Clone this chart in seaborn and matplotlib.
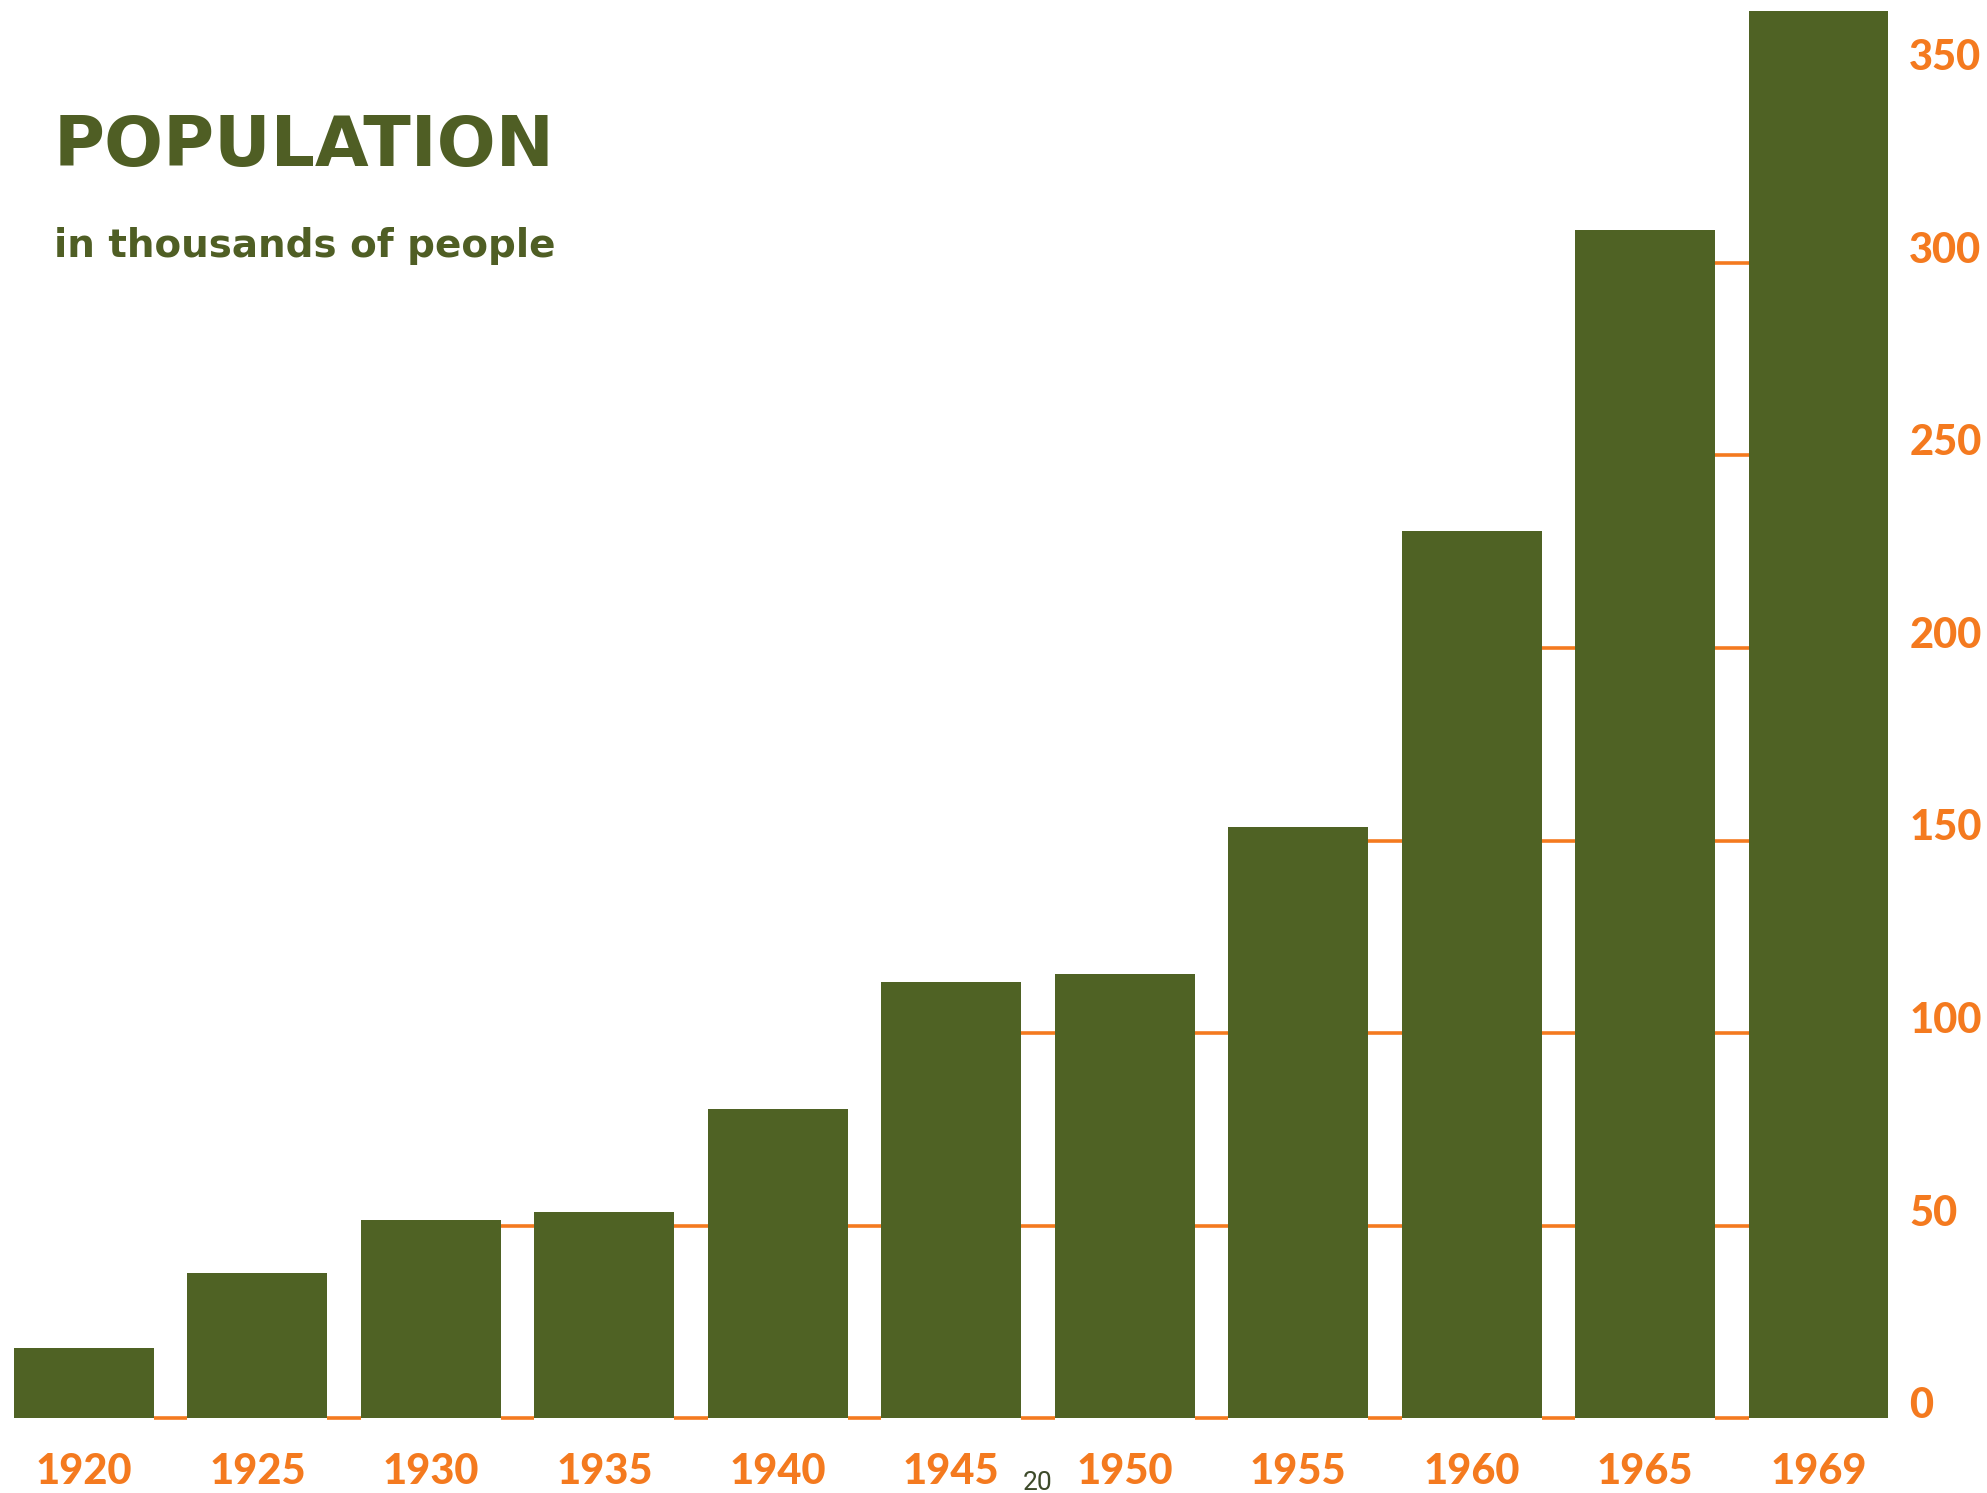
import matplotlib
matplotlib.use("Agg")
import matplotlib.pyplot as plt
import seaborn as sns
import pandas as pd

# ---- data ----
years = ["1920", "1925", "1930", "1935", "1940", "1945", "1950", "1955", "1960", "1965", "1969"]
population = [18.3, 37.8, 51.5, 53.6, 80.2, 113.2, 115.3, 153.6, 230.4, 308.5, 365.3]
y_ticks = [0, 50, 100, 150, 200, 250, 300, 350]
y_tick_labels = ["0", "50", "100", "150", "200", "250", "300", "350"]
title_text = "POPULATION"
subtitle_text = "in thousands of people"
page_number = "20"

# ---- style ----
GREEN = "#4f6224"
TEXT_GREEN = "#4f5e24"
ORANGE = "#f47a1f"
BAR_WIDTH = 0.807

sns.set_theme(style="white")
plt.rcParams["font.family"] = ["Lato", "DejaVu Sans"]

W, H, DPI = 1987, 1493, 100
fig = plt.figure(figsize=(W / DPI, H / DPI), dpi=DPI, facecolor="white")

zero_px = 1418.3       # pixel row of value 0 (from top)
px_per_unit = 3.852
ax_right_px = 1905.0
ax = fig.add_axes([0.0, (H - zero_px) / H, ax_right_px / W, zero_px / H])
ax.set_facecolor("white")

df = pd.DataFrame({"year": years, "population": population})
sns.barplot(data=df, x="year", y="population", color=GREEN, saturation=1,
            width=BAR_WIDTH, edgecolor="none", linewidth=0, ax=ax, zorder=3)

# small orange scale dashes in the gaps between bars
for i in range(len(population) - 1):
    lo = min(population[i], population[i + 1])
    for v in y_ticks:
        if v <= lo:
            ax.hlines(v, i + BAR_WIDTH / 2, i + 1 - BAR_WIDTH / 2,
                      color=ORANGE, linewidth=2.6, zorder=2, clip_on=False)

pitch = 173.45
first_center_px = 84.0
ax.set_xlim(-first_center_px / pitch, (len(years) - 1) + (ax_right_px - 1818.5) / pitch)
ax.set_ylim(0, zero_px / px_per_unit)

for s in ax.spines.values():
    s.set_visible(False)
ax.grid(False)
ax.set_xlabel("")
ax.set_ylabel("")

# y ticks on the right
ax.yaxis.tick_right()
ax.set_yticks(y_ticks)
ax.set_yticklabels(y_tick_labels, fontsize=30, fontweight="black", color=ORANGE,
                   ha="left", va="baseline", family=["Lato", "DejaVu Sans"])
ax.tick_params(axis="y", length=0, pad=3.0, right=True, left=False)

# x ticks
ax.set_xticks(range(len(years)))
ax.set_xticklabels(years, fontsize=30, fontweight="black", color=ORANGE,
                   family=["Lato", "DejaVu Sans"])
ax.tick_params(axis="x", length=0, pad=25)

# titles
fig.text(54 / W, 1 - 166 / H, title_text, fontsize=50, fontweight="bold",
         family=["DejaVu Sans"], color=TEXT_GREEN, ha="left", va="baseline")
fig.text(54 / W, 1 - 257 / H, subtitle_text, fontsize=28, fontweight="bold",
         family=["DejaVu Sans"], color=TEXT_GREEN, ha="left", va="baseline")
fig.text(1038 / W, 1 - 1490 / H, page_number, fontsize=19,
         family=["Roboto", "DejaVu Sans"], color="#3d4a2a", ha="center", va="baseline")

fig.savefig("out.png", dpi=DPI, facecolor="white")
